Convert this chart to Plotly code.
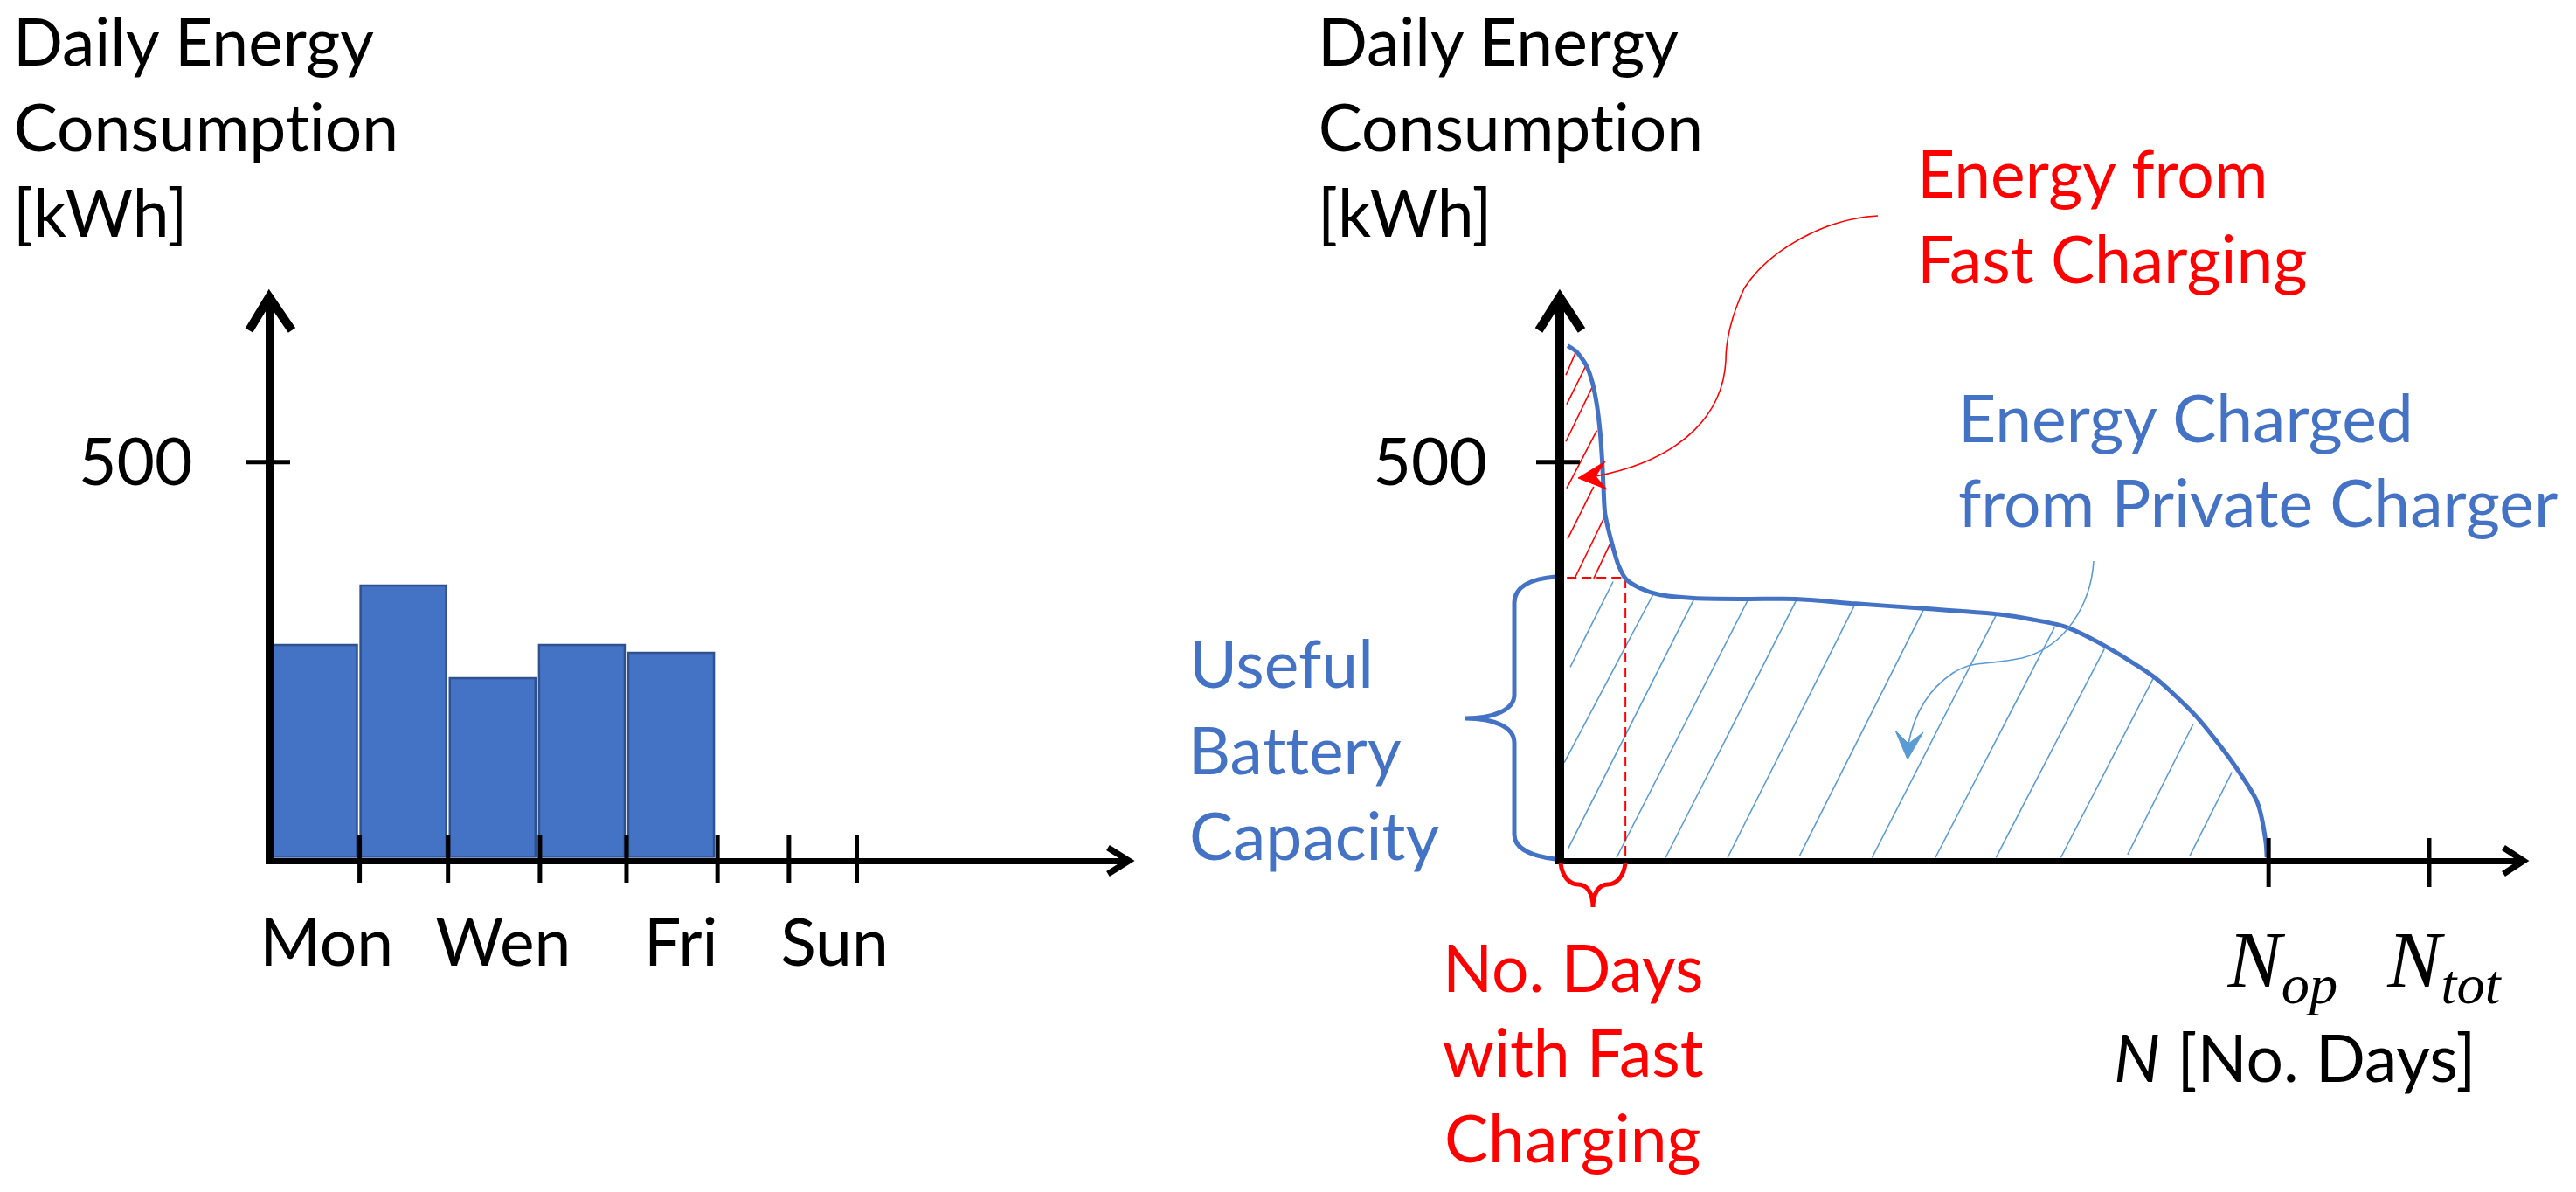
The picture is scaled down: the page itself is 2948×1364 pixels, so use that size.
import plotly.graph_objects as go

W, H = 2948, 1364
FONT = "Lato"
SIZE = 75
BLUE = "#4472C4"
LIGHT_BLUE = "#5B9BD5"
RED = "#FF0000"

# left chart: daily consumption, x is the day index
days = [0, 1, 2, 3, 4]
energy = [269, 344, 227, 269, 259]
day_ticks = [0.51, 1.5, 2.53, 3.5, 4.52, 5.32, 6.08]
day_label_pos = [0.14, 2.12, 4.11, 5.83]
day_labels = ["Mon", "Wen", "Fri", "Sun"]

# right chart: sorted daily energy, x in % of N_op
curve_n = [0.5, 1.7, 3.1, 4.0, 4.65, 5.1, 5.4, 5.6, 5.8, 6.65, 7.75, 8.8, 10.7, 13.3, 18.4, 26, 33,
           41.4, 51.1, 61.3, 66.5, 71.1, 76.7, 83.8, 89.8, 95, 98.4, 99.6, 99.75]
curve_e = [647, 640, 623, 601, 572, 539, 502, 465, 435, 402, 369, 352, 341, 333, 328, 327, 327,
           321, 315, 308, 301, 292, 268, 228, 178, 119, 70, 20, 0]
n_ticks = [100, 122.8]
n_label_pos = [102, 124.9]
n_labels = ["<i>N<sub>op</sub></i>", "<i>N<sub>tot</sub></i>"]

# hatching, one entry per stroke
blue_top_n = [6.95, 12.65, 18.4, 26.05, 33.1, 41.4, 51.1, 61.3, 69.6, 76.7, 83.7, 89.3, 94.8]
blue_top_e = [349, 333, 326, 325, 328, 322, 315, 306, 291, 264, 228, 169, 108]
blue_bot_n = [0.87, 0, 0.6, 7.44, 14.4, 23.2, 33.4, 43.7, 52.7, 61.3, 70.5, 80, 88.8]
blue_bot_e = [241, 120, 12, 0, 0, 0, 2, 0, 0, 0, 0, 4, 2]
red_top_n = [1.6, 3.1, 4.0, 4.65, 4.2, 5.7, 6.7]
red_top_e = [638, 622, 595, 540, 469, 430, 400]
red_bot_n = [0.25, 0.37, 0.25, 0.37, 0.5, 1.55, 4.2]
red_bot_e = [610, 573, 526, 467, 403, 354, 353]

# limit of fast charging
fast_n = [0.4, 8.7, 8.7]
fast_e = [354, 354, 0]


def fx(x):
    return x / W


def fy(y):
    return 1 - y / H


def strokes(a, b):
    out = []
    for p, q in zip(a, b):
        out += [p, q, None]
    return out


fig = go.Figure()

fig.add_trace(go.Bar(x=days, y=energy, width=0.96, xaxis="x", yaxis="y",
                     marker=dict(color=BLUE, line=dict(color="#2F528F", width=2.5))))

fig.add_trace(go.Scatter(x=strokes(blue_top_n, blue_bot_n), y=strokes(blue_top_e, blue_bot_e), mode="lines",
                         xaxis="x2", yaxis="y2", line=dict(color=LIGHT_BLUE, width=1.6)))
fig.add_trace(go.Scatter(x=strokes(red_top_n, red_bot_n), y=strokes(red_top_e, red_bot_e), mode="lines",
                         xaxis="x2", yaxis="y2", line=dict(color=RED, width=1.6)))
fig.add_trace(go.Scatter(x=fast_n, y=fast_e, mode="lines", xaxis="x2", yaxis="y2",
                         line=dict(color=RED, width=2, dash="11px,6px")))
fig.add_trace(go.Scatter(x=curve_n, y=curve_e, mode="lines", xaxis="x2", yaxis="y2",
                         line=dict(color=BLUE, width=5, shape="spline", smoothing=0.7)))

# page-sized hidden axes, annotations and shapes below are placed on them in picture pixels
fig.add_trace(go.Scatter(x=[], y=[], xaxis="x3", yaxis="y3"))
page = dict(xref="x3", yref="y3")


def curve(path, color, width, fill=None):
    fig.add_shape(type="path", path=path, line=dict(color=color, width=width), fillcolor=fill, **page)


# axis arrowheads
for p in ["M285,378 L308,340 L334,378", "M1761,378 L1785,340 L1810,378"]:
    curve(p, "black", 10)
for p in ["M1268,970 L1292,985 L1268,1000", "M2865,970 L2888,985 L2865,1000"]:
    curve(p, "black", 7)

# ticks crossing the axis lines
for t in day_ticks:
    fig.add_shape(type="line", x0=t, x1=t, y0=955, y1=1010, xref="x", yref="y3", line=dict(color="black", width=5))
for t in n_ticks:
    fig.add_shape(type="line", x0=t, x1=t, y0=959, y1=1015, xref="x2", yref="y3", line=dict(color="black", width=5))
fig.add_shape(type="line", x0=282, x1=332, y0=500, y1=500, xref="x3", yref="y", line=dict(color="black", width=5))
fig.add_shape(type="line", x0=1758, x1=1808, y0=500, y1=500, xref="x3", yref="y2", line=dict(color="black", width=5))

# braces
curve("M1780,660 C1755,662 1733,670 1733,690 L1733,795 C1733,812 1710,822 1677,822 "
      "C1710,822 1733,832 1733,850 L1733,955 C1733,972 1755,980 1780,983", BLUE, 5)
curve("M1786,988 C1788,1003 1796,1012 1806,1012 C1816,1012 1823,1022 1823,1038 "
      "C1823,1022 1830,1012 1840,1012 C1850,1012 1858,1003 1860,988", RED, 5)

# callout arrows
curve("M2149,247 C2090,250 2025,285 1996,330 C1980,365 1975,390 1975,413 C1972,470 1930,525 1826,545", RED, 1.6)
curve("M1806,547 L1837,528 L1826,545 L1839,560 Z", RED, 1, RED)
curve("M2396,642 C2393,690 2365,740 2314,753 C2270,762 2260,755 2235,770 C2205,790 2190,820 2184,851", LIGHT_BLUE, 1.6)
curve("M2183,869 L2169,836 L2184,851 L2201,838 Z", LIGHT_BLUE, 1, LIGHT_BLUE)


def label(text, x, baseline, color="black", anchor="left"):
    fig.add_annotation(text=text, x=x, y=baseline - 0.33 * SIZE, xanchor=anchor, yanchor="middle", showarrow=False,
                       font=dict(family=FONT, size=SIZE, color=color), **page)


for x0 in [13, 1506]:
    label("Daily Energy", x0, 71)
    label("Consumption", x0, 169)
    label("[kWh]", x0, 267)

label("Energy from", 2192, 222, RED)
label("Fast Charging", 2192, 320, RED)
label("Energy Charged", 2239, 502, BLUE)
label("from Private Charger", 2239, 599, BLUE)
label("Useful", 1359, 783, BLUE)
label("Battery", 1359, 882, BLUE)
label("Capacity", 1359, 980, BLUE)
label("No. Days", 1800, 1131, RED, "center")
label("with Fast", 1800, 1228, RED, "center")
label("Charging", 1800, 1326, RED, "center")
label("<i>N</i> [No. Days]", 2626, 1234, "black", "center")

axis = dict(showgrid=False, zeroline=False, showline=True, linecolor="black", ticks="", automargin=False)
tickfont = dict(family=FONT, size=SIZE, color="black")

fig.update_layout(
    width=W, height=H, margin=dict(l=0, r=0, t=0, b=0),
    paper_bgcolor="white", plot_bgcolor="rgba(0,0,0,0)", showlegend=False,
    xaxis=dict(axis, domain=[fx(312.5), fx(1291)], range=[-0.46, 9.12], anchor="y", linewidth=7,
               tickvals=day_label_pos, ticktext=day_labels, tickfont=tickfont, ticklabelstandoff=26),
    yaxis=dict(axis, domain=[fy(981.5), fy(345)], range=[0, 703], anchor="x", linewidth=9,
               tickvals=[500], ticktext=["500"], tickfont=tickfont, ticklabelstandoff=68),
    xaxis2=dict(axis, domain=[fx(1790), fx(2888)], range=[0, 136.2], anchor="y2", linewidth=7,
                tickvals=n_label_pos, ticktext=n_labels,
                tickfont=dict(family="Liberation Serif", size=92, color="black"), ticklabelstandoff=30),
    yaxis2=dict(axis, domain=[fy(981.5), fy(345)], range=[0, 703], anchor="x2", linewidth=11,
                tickvals=[500], ticktext=["500"], tickfont=tickfont, ticklabelstandoff=62),
    xaxis3=dict(domain=[0, 1], range=[0, W], visible=False, anchor="y3", automargin=False),
    yaxis3=dict(domain=[0, 1], range=[H, 0], visible=False, anchor="x3", automargin=False),
)

post = ("document.body.style.margin='0';document.body.style.overflow='hidden';"
        "document.querySelectorAll('text').forEach(t=>t.style.fontVariantLigatures='none');")
fig.write_html("out.html", config=dict(displayModeBar=False), post_script=post)
